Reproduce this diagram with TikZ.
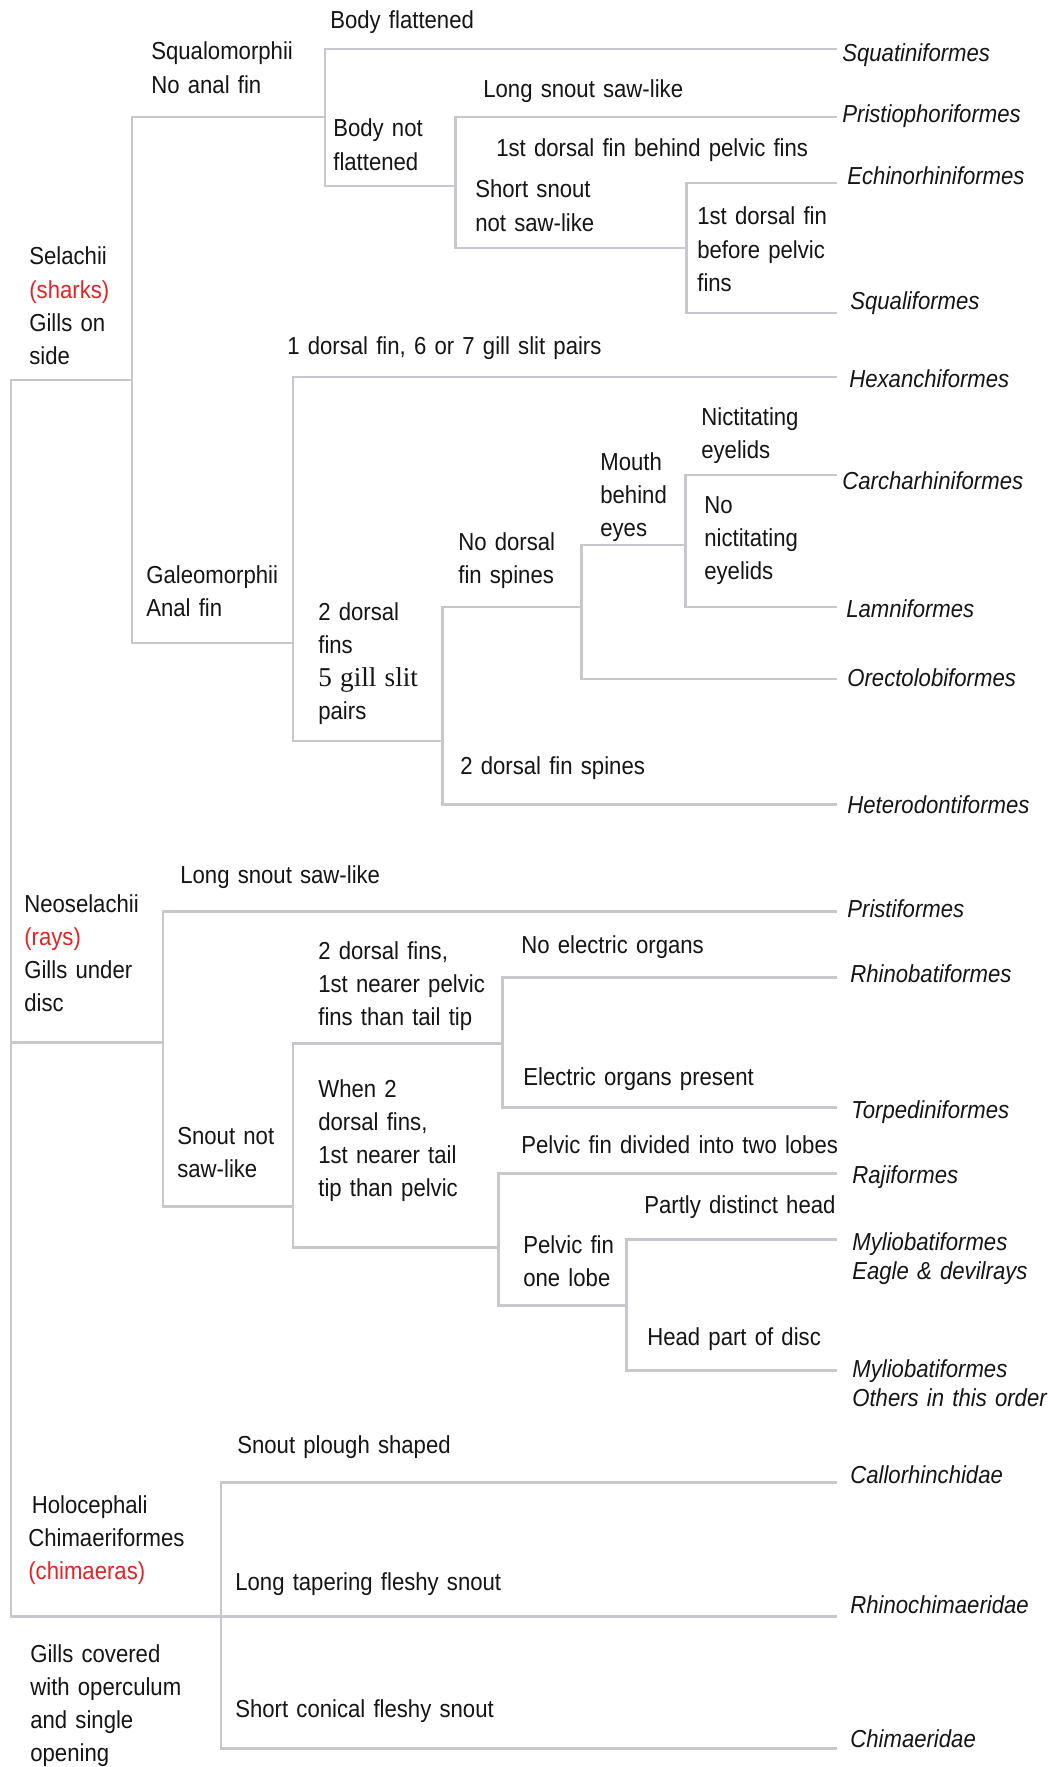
\documentclass[tikz,border=0pt]{standalone}
\usepackage{fontspec}
\setmainfont[FakeStretch=0.9]{Liberation Sans}
\newfontfamily\timesfont{Liberation Serif}
\definecolor{linegray}{RGB}{198,200,205}
\definecolor{inkdark}{RGB}{22,20,20}
\definecolor{cladered}{RGB}{226,36,38}

\begin{document}
\begin{tikzpicture}[x=0.02cm, y=-0.02cm,
  cond/.style={anchor=base west, inner sep=0pt, text width=7cm, align=left, text=inkdark, font=\fontsize{14}{18.8}\selectfont},
  taxon/.style={cond, font=\fontsize{14}{17}\selectfont\itshape},
  branch/.style={draw=linegray, line width=1.7pt}]
\useasboundingbox[fill=white] (0,0) rectangle (1051,1767);

% branching points
\coordinate (root) at (11,1042);
\coordinate (sel) at (132,380);
\coordinate (squalo) at (325,117);
\coordinate (bodynot) at (455,186);
\coordinate (shortsn) at (686,248);
\coordinate (galeo) at (293,643);
\coordinate (twodors) at (442,741);
\coordinate (nospines) at (581,607);
\coordinate (mouth) at (685,545);
\coordinate (neo) at (163,1042);
\coordinate (snoutnot) at (293,1206);
\coordinate (twofins) at (502,1043);
\coordinate (whentwo) at (498,1247);
\coordinate (onelobe) at (626,1305);
\coordinate (holo) at (221,1616);

% tips
\coordinate (squatini) at (837,49);
\coordinate (pristio) at (837,117);
\coordinate (echino) at (837,183);
\coordinate (squali) at (837,313);
\coordinate (hexan) at (837,377);
\coordinate (carchar) at (837,475);
\coordinate (lamni) at (837,607);
\coordinate (orecto) at (837,679);
\coordinate (hetero) at (837,804);
\coordinate (pristi) at (837,911);
\coordinate (rhinob) at (837,977);
\coordinate (torped) at (837,1107);
\coordinate (raji) at (837,1173);
\coordinate (eagle) at (837,1239);
\coordinate (others) at (837,1370);
\coordinate (callor) at (837,1482);
\coordinate (rhinoc) at (837,1616);
\coordinate (chimae) at (837,1748);

% tree
\draw[branch] (root) |- (sel);
\draw[branch] (root) |- (neo);
\draw[branch] (root) |- (holo);
\draw[branch] (sel) |- (squalo);
\draw[branch] (sel) |- (galeo);
\draw[branch] (squalo) |- (squatini);
\draw[branch] (squalo) |- (bodynot);
\draw[branch] (bodynot) |- (pristio);
\draw[branch] (bodynot) |- (shortsn);
\draw[branch] (shortsn) |- (echino);
\draw[branch] (shortsn) |- (squali);
\draw[branch] (galeo) |- (hexan);
\draw[branch] (galeo) |- (twodors);
\draw[branch] (twodors) |- (nospines);
\draw[branch] (twodors) |- (hetero);
\draw[branch] (nospines) |- (mouth);
\draw[branch] (nospines) |- (orecto);
\draw[branch] (mouth) |- (carchar);
\draw[branch] (mouth) |- (lamni);
\draw[branch] (neo) |- (pristi);
\draw[branch] (neo) |- (snoutnot);
\draw[branch] (snoutnot) |- (twofins);
\draw[branch] (snoutnot) |- (whentwo);
\draw[branch] (twofins) |- (rhinob);
\draw[branch] (twofins) |- (torped);
\draw[branch] (whentwo) |- (raji);
\draw[branch] (whentwo) |- (onelobe);
\draw[branch] (onelobe) |- (eagle);
\draw[branch] (onelobe) |- (others);
\draw[branch] (holo) |- (callor);
\draw[branch] (holo) |- (rhinoc);
\draw[branch] (holo) |- (chimae);

% clade and character texts
\node[cond] (bflatlbl) at (330,29) {Body flattened};
\node[cond] (squalolbl) at (151,60) {Squalomorphii\\No anal fin};
\node[cond] (longsnlbl) at (483,98) {Long snout saw-like};
\node[cond] (bodynotlbl) at (333,137) {Body not\\flattened};
\node[cond] (behindlbl) at (496,157) {1st dorsal fin behind pelvic fins};
\node[cond] (shortsnlbl) at (475,198) {Short snout\\not saw-like};
\node[cond] (beforelbl) at (697,225) {1st dorsal fin\\before pelvic\\fins};
\node[cond] (sellbl) at (29,265) {Selachii\\\textcolor{cladered}{(sharks)}\\Gills on\\side};
\node[cond] (onedorslbl) at (287,355) {1 dorsal fin, 6 or 7 gill slit pairs};
\node[cond] (nictlbl) at (701,425) {Nictitating\\eyelids};
\node[cond] (mouthlbl) at (600,470) {Mouth\\behind\\eyes};
\node[cond] (nonictlbl) at (704,513) {No\\nictitating\\eyelids};
\node[cond] (nospineslbl) at (458,550) {No dorsal\\fin spines};
\node[cond] (galeolbl) at (146,583) {Galeomorphii\\Anal fin};
\node[cond] (twodorslbl) at (318,620) {2 dorsal\\fins\\{\timesfont\fontsize{15.5}{18.8}\selectfont 5 gill slit}\\pairs};
\node[cond] (spineslbl) at (460,774) {2 dorsal fin spines};
\node[cond] (longsawlbl) at (180,883) {Long snout saw-like};
\node[cond] (neolbl) at (24,912) {Neoselachii\\\textcolor{cladered}{(rays)}\\Gills under\\disc};
\node[cond] (noeleclbl) at (521,953) {No electric organs};
\node[cond] (twofinslbl) at (318,959) {2 dorsal fins,\\1st nearer pelvic\\fins than tail tip};
\node[cond] (eleclbl) at (523,1085) {Electric organs present};
\node[cond] (whentwolbl) at (318,1097) {When 2\\dorsal fins,\\1st nearer tail\\tip than pelvic};
\node[cond] (snoutnotlbl) at (177,1144) {Snout not\\saw-like};
\node[cond] (twolobeslbl) at (521,1153) {Pelvic fin divided into two lobes};
\node[cond] (partlylbl) at (644,1213) {Partly distinct head};
\node[cond] (onelobelbl) at (523,1253) {Pelvic fin\\one lobe};
\node[cond] (disclbl) at (647,1345) {Head part of disc};
\node[cond] (ploughlbl) at (237,1453) {Snout plough shaped};
\node[cond] (hololbl) at (28,1513) {\hspace{2pt}Holocephali\\Chimaeriformes\\\textcolor{cladered}{(chimaeras)}};
\node[cond] (taperlbl) at (235,1590) {Long tapering fleshy snout};
\node[cond] (gillslbl) at (30,1662) {Gills covered\\with operculum\\and single\\opening};
\node[cond] (coniclbl) at (235,1717) {Short conical fleshy snout};

% orders and families
\node[taxon] (squatinilbl) at (842,62) {Squatiniformes};
\node[taxon] (pristiolbl) at (842,123) {Pristiophoriformes};
\node[taxon] (echinolbl) at (847,185) {Echinorhiniformes};
\node[taxon] (squalilbl) at (850,310) {Squaliformes};
\node[taxon] (hexanlbl) at (849,387) {Hexanchiformes};
\node[taxon] (carcharlbl) at (842,489) {Carcharhiniformes};
\node[taxon] (lamnilbl) at (846,617) {Lamniformes};
\node[taxon] (orectolbl) at (847,686) {Orectolobiformes};
\node[taxon] (heterolbl) at (847,813) {Heterodontiformes};
\node[taxon] (pristilbl) at (847,917) {Pristiformes};
\node[taxon] (rhinoblbl) at (850,982) {Rhinobatiformes};
\node[taxon] (torpedlbl) at (851,1118) {Torpediniformes};
\node[taxon] (rajilbl) at (852,1183) {Rajiformes};
\node[taxon] (eaglelbl) at (852,1250) {Myliobatiformes\\Eagle \& devilrays};
\node[taxon] (otherslbl) at (852,1377) {Myliobatiformes\\Others in this order};
\node[taxon] (callorlbl) at (850,1483) {Callorhinchidae};
\node[taxon] (rhinoclbl) at (850,1613) {Rhinochimaeridae};
\node[taxon] (chimaelbl) at (850,1747) {Chimaeridae};
\end{tikzpicture}
\end{document}
